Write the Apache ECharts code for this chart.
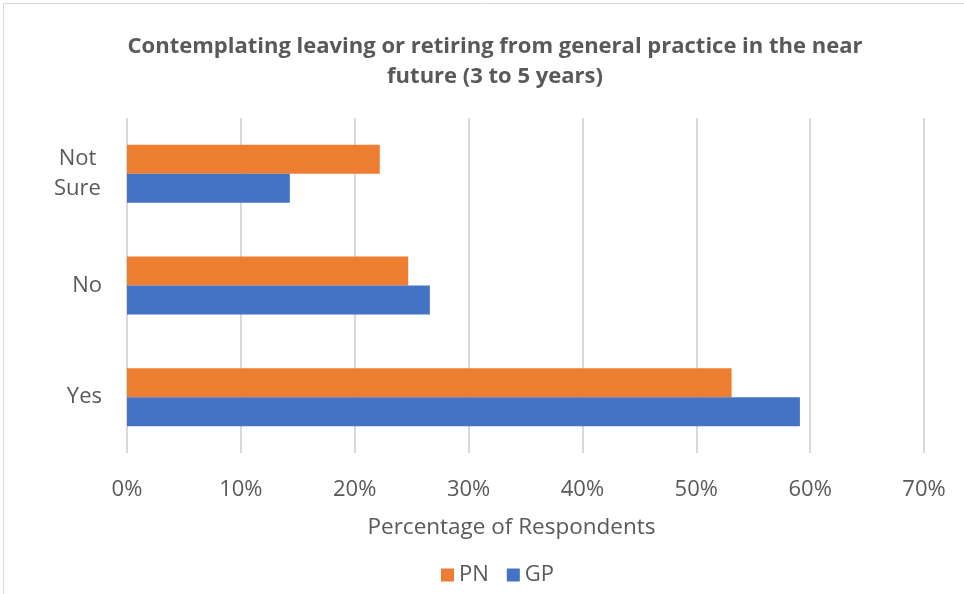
<!DOCTYPE html>
<html>
<head>
<meta charset="utf-8">
<script src="https://cdn.jsdelivr.net/npm/echarts@6/dist/echarts.min.js"></script>
<style>
  html, body { margin: 0; padding: 0; background: #fff; }
  #chart { width: 964px; height: 594px; }
</style>
</head>
<body>
<div id="chart"></div>
<script>
// Response categories, listed bottom to top on the category axis
const categories = ['Yes', 'No', 'Not Sure'];
// Share of respondents (%) per group
const pnValues = [53.1, 24.7, 22.2];
const gpValues = [59.1, 26.6, 14.3];
const xTicks = [0, 10, 20, 30, 40, 50, 60, 70];

const textColor = '#595959';
const labelFont = '"Open Sans", "Noto Sans", sans-serif';

const chart = echarts.init(document.getElementById('chart'));
chart.setOption({
  animation: false,
  backgroundColor: '#fff',
  title: {
    text: 'Contemplating leaving or retiring from general practice in the near\nfuture (3 to 5 years)',
    left: 490,
    textAlign: 'center',
    top: 27,
    textStyle: {
      fontFamily: labelFont,
      fontWeight: 'bold',
      fontSize: 22,
      lineHeight: 30,
      color: textColor
    }
  },
  graphic: [{
    type: 'rect',
    shape: { x: 3.5, y: 3.5, width: 970, height: 600 },
    style: { fill: 'none', stroke: '#d9d9d9', lineWidth: 1 },
    silent: true
  }],
  legend: {
    data: ['PN', 'GP'],
    top: 559,
    left: 436,
    itemWidth: 13,
    itemHeight: 13,
    itemGap: 18,
    icon: 'rect',
    textStyle: { fontFamily: labelFont, fontSize: 22, color: textColor }
  },
  grid: { left: 127, right: 40, top: 118, bottom: 141, containLabel: false },
  xAxis: {
    type: 'value',
    min: xTicks[0],
    max: xTicks[xTicks.length - 1],
    interval: 10,
    name: 'Percentage of Respondents',
    nameLocation: 'middle',
    nameGap: 63,
    nameTextStyle: {
      fontFamily: labelFont, fontSize: 22.5, color: textColor,
      padding: [0, 28, 0, 0]
    },
    axisLine: { show: false },
    axisTick: { show: false },
    axisLabel: {
      margin: 26,
      fontFamily: labelFont,
      fontSize: 22,
      color: textColor,
      formatter: v => v + '%'
    },
    splitLine: { show: true, lineStyle: { color: '#d9d9d9', width: 2 } }
  },
  yAxis: {
    type: 'category',
    data: categories,
    axisLine: { show: false },
    axisTick: { show: false },
    axisLabel: {
      margin: 25,
      fontFamily: labelFont,
      fontSize: 22,
      lineHeight: 30,
      color: textColor,
      // wrapped labels are centred line by line, like a wrapped cell
      formatter: v => v.indexOf(' ') < 0 ? v
        : v.split(' ').map(w => '{c|' + w + '}').join('\n'),
      rich: {
        c: {
          width: 49, align: 'center', fontFamily: labelFont,
          fontSize: 22, lineHeight: 30, color: textColor
        }
      }
    }
  },
  series: [
    {
      name: 'PN',
      type: 'bar',
      data: pnValues,
      barGap: '0%',
      barCategoryGap: '48%',
      itemStyle: { color: '#ED7D31' }
    },
    {
      name: 'GP',
      type: 'bar',
      data: gpValues,
      barGap: '0%',
      barCategoryGap: '48%',
      itemStyle: { color: '#4472C4' }
    }
  ]
});
</script>
</body>
</html>
